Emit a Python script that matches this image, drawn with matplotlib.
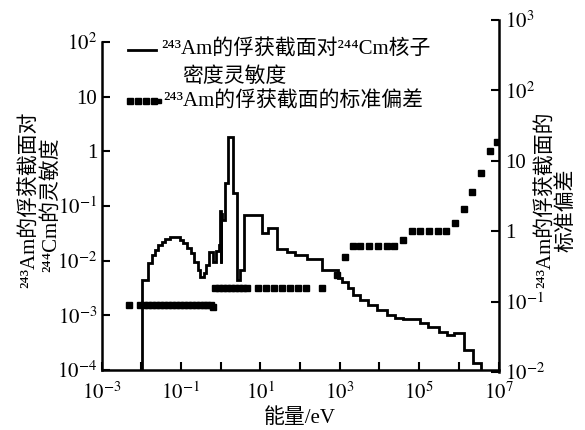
import numpy as np
import matplotlib
matplotlib.use('Agg')
import matplotlib.pyplot as plt
from matplotlib.lines import Line2D
from matplotlib.ticker import NullLocator

# 字体：拉丁字母用衬线体，中文回落到 Noto Sans CJK
plt.rcParams['font.family'] = ['Liberation Serif', 'DejaVu Serif', 'Noto Sans CJK SC']
plt.rcParams['mathtext.fontset'] = 'stix'
plt.rcParams['axes.unicode_minus'] = False

# 灵敏度阶梯线：能量分组边界 log10(E/eV) 与每组的 log10(灵敏度)
sens_edges = [-1.99, -1.83, -1.73, -1.65, -1.57, -1.48, -1.40, -1.27, -1.02, -0.94,
              -0.84, -0.75, -0.67, -0.58, -0.52, -0.43, -0.36, -0.28, -0.19, -0.12,
              -0.05, -0.02, 0.00, 0.02, 0.04, 0.115, 0.19, 0.32, 0.41, 0.49,
              0.59, 1.05, 1.20, 1.43, 1.68, 1.88, 2.18, 2.56, 2.96, 3.06,
              3.21, 3.34, 3.52, 3.72, 3.95, 4.20, 4.40, 4.60, 5.03, 5.23,
              5.49, 5.71, 5.87, 6.12, 6.35, 6.55]
sens_values = [-2.35, -2.04, -1.89, -1.80, -1.71, -1.65, -1.60, -1.56, -1.62, -1.68,
               -1.77, -1.86, -2.02, -2.17, -2.29, -2.22, -2.08, -1.85, -2.02, -1.83,
               -1.71, -1.10, -2.05, -1.15, -1.25, -0.58, 0.27, -0.77, -2.35, -2.17,
               -1.16, -1.49, -1.40, -1.78, -1.84, -1.89, -1.97, -2.17, -2.31, -2.39,
               -2.50, -2.63, -2.72, -2.81, -2.90, -2.99, -3.05, -3.06, -3.14, -3.21,
               -3.30, -3.36, -3.32, -3.63, -3.87]

# 标准偏差散点：log10(E/eV) 与 log10(标准偏差)
std_energy = [-2.30, -2.03, -1.93, -1.83, -1.73, -1.63, -1.53, -1.43, -1.33, -1.23,
              -1.13, -1.03, -0.93, -0.83, -0.73, -0.63, -0.53, -0.43, -0.33, -0.23,
              -0.19, -0.14, -0.04, 0.06, 0.16, 0.26, 0.36, 0.46, 0.56, 0.66,
              0.95, 1.15, 1.35, 1.55, 1.76, 1.96, 2.16, 2.56, 2.94, 3.14,
              3.34, 3.52, 3.73, 3.96, 4.18, 4.38, 4.60, 4.82, 5.03, 5.26,
              5.47, 5.69, 5.91, 6.12, 6.34, 6.56, 6.78, 6.97]
std_values = [-1.05, -1.05, -1.05, -1.05, -1.05, -1.05, -1.05, -1.05, -1.05, -1.05,
              -1.05, -1.05, -1.05, -1.05, -1.05, -1.05, -1.05, -1.05, -1.05, -1.05,
              -1.08, -0.80, -0.80, -0.80, -0.80, -0.80, -0.80, -0.80, -0.80, -0.80,
              -0.80, -0.80, -0.80, -0.80, -0.80, -0.80, -0.80, -0.80, -0.62, -0.36,
              -0.21, -0.21, -0.21, -0.21, -0.21, -0.21, -0.13, 0.00, 0.00, 0.00,
              0.00, 0.00, 0.12, 0.31, 0.55, 0.82, 1.14, 1.26]

x_ticks = [1e-3, 1e-2, 1e-1, 1, 10, 1e2, 1e3, 1e4, 1e5, 1e6, 1e7]
x_labels = ['$10^{-3}$', '', '$10^{-1}$', '', '$10^{1}$', '', '$10^{3}$', '', '$10^{5}$', '', '$10^{7}$']
yl_ticks = [1e-4, 1e-3, 1e-2, 1e-1, 1, 10, 1e2]
yl_labels = ['$10^{-4}$', '$10^{-3}$', '$10^{-2}$', '$10^{-1}$', '1', '10', '$10^{2}$']
yr_ticks = [1e-2, 1e-1, 1, 10, 1e2, 1e3]
yr_labels = ['$10^{-2}$', '$10^{-1}$', '1', '10', '$10^{2}$', '$10^{3}$']

label_sens = ['²⁴³Am的俘获截面对²⁴⁴Cm核子', '密度灵敏度']
label_std = '²⁴³Am的俘获截面的标准偏差'

W, H = 585, 430
fig = plt.figure(figsize=(W / 100, H / 100), dpi=100)
ax = fig.add_axes([101.5 / W, 1 - 370 / H, 397 / W, 328 / H])
ax2 = fig.add_axes([101.5 / W, 1 - 372 / H, 397 / W, 352 / H])
ax2.patch.set_visible(False)

# 左轴：灵敏度
ax.stairs(10 ** np.array(sens_values), 10 ** np.array(sens_edges), baseline=1e-6,
          color='black', linewidth=2.0)
ax.set_xscale('log')
ax.set_yscale('log')
ax.set_xlim(1e-3, 1e7)
ax.set_ylim(1e-4, 1e2)
ax.set_xticks(x_ticks)
ax.set_xticklabels(x_labels)
ax.set_yticks(yl_ticks)
ax.set_yticklabels(yl_labels)
ax.xaxis.set_minor_locator(NullLocator())
ax.yaxis.set_minor_locator(NullLocator())
ax.tick_params(direction='in', length=6, width=1.5, labelsize=15)
ax.tick_params(axis='x', pad=9)
ax.tick_params(axis='y', pad=3)
ax.spines['top'].set_visible(False)
ax.spines['right'].set_visible(False)
for s in ['left', 'bottom']:
    ax.spines[s].set_linewidth(1.8)

# 右轴：标准偏差
ax2.plot(10 ** np.array(std_energy), 10 ** np.array(std_values), 's', color='black',
         markersize=5, linestyle='none')
ax2.set_xscale('log')
ax2.set_yscale('log')
ax2.set_xlim(1e-3, 1e7)
ax2.set_ylim(1e-2, 1e3)
ax2.set_xticks([])
ax2.xaxis.set_minor_locator(NullLocator())
ax2.yaxis.set_minor_locator(NullLocator())
ax2.yaxis.tick_right()
ax2.set_yticks(yr_ticks)
ax2.set_yticklabels(yr_labels)
ax2.tick_params(axis='y', direction='in', length=6, width=1.5, labelsize=15, pad=5)
for s in ['top', 'left', 'bottom']:
    ax2.spines[s].set_visible(False)
ax2.spines['right'].set_linewidth(1.8)

# 图例（手工摆放，线段与第一行文字对齐）
def px(x, y):
    return x / W, 1 - y / H

fig.add_artist(Line2D([128 / W, 156 / W], [1 - 50 / H, 1 - 50 / H], color='black',
                      linewidth=2.0, transform=fig.transFigure))
fig.text(*px(161, 50), label_sens[0], ha='left', va='center', fontsize=15)
fig.text(*px(182, 77), label_sens[1], ha='left', va='center', fontsize=15)
fig.add_artist(Line2D([130 / W, 138 / W, 146 / W, 154 / W], [1 - 101 / H] * 4,
                      color='black', marker='s', markersize=5, linestyle='none',
                      transform=fig.transFigure))
fig.add_artist(Line2D([159 / W], [1 - 101 / H], color='black', marker='s',
                      markersize=3, linestyle='none', transform=fig.transFigure))
fig.text(*px(163, 101), label_std, ha='left', va='center', fontsize=15)

# 轴标题
fig.text(*px(300, 418), '能量/eV', ha='center', va='center', fontsize=15)
fig.text(*px(30, 200), '²⁴³Am的俘获截面对', ha='center', va='center',
         rotation=90, fontsize=15)
fig.text(*px(51, 205), '²⁴⁴Cm的灵敏度', ha='center', va='center',
         rotation=90, fontsize=15)
fig.text(*px(546, 200), '²⁴³Am的俘获截面的', ha='center', va='center',
         rotation=90, fontsize=15)
fig.text(*px(567, 210), '标准偏差', ha='center', va='center',
         rotation=90, fontsize=15)

fig.savefig('out.png', dpi=100)
